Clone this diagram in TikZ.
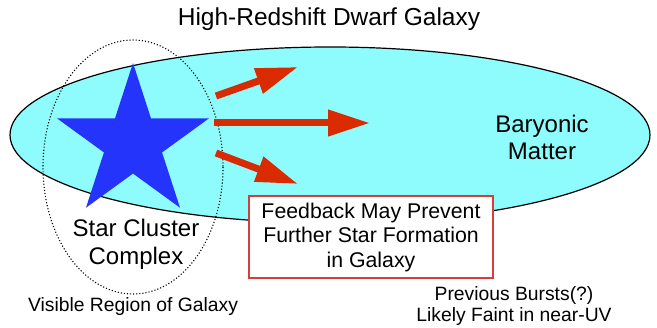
\documentclass[tikz,border=0pt]{standalone}
\usepackage{fontspec}
\setmainfont{Liberation Sans}
\usetikzlibrary{shapes.geometric,arrows.meta}
\definecolor{gasblue}{RGB}{142,252,252}
\definecolor{starblue}{RGB}{36,52,250}
\definecolor{flowred}{RGB}{218,42,0}
\definecolor{boxred}{RGB}{214,62,62}
\tikzset{
	flow/.style={draw=flowred, line width=7pt, -{Triangle[length=42pt,width=25pt]}},
	bigtext/.style={align=center, font=\fontsize{24.5}{28}\selectfont},
	smalltext/.style={align=center, font=\fontsize{19.3}{21}\selectfont}
}
\begin{document}
\begin{tikzpicture}[x=1pt,y=-1pt]
	\useasboundingbox (0,0) rectangle (657,328);
	\coordinate (G) at (330,135);
	\coordinate (V) at (133,167);
	\fill [gasblue] (G) ellipse [x radius=320, y radius=88];
	\draw [line width=1.2pt] (G) ellipse [x radius=320, y radius=88];
	\draw [dotted, line width=1.1pt] (V) ellipse [x radius=90, y radius=127];
	\node [star, star points=5, star point ratio=2.618, minimum size=160pt, inner sep=0pt, fill=starblue] (star) at (133,143) {};
	% feedback arrows
	\coordinate (T1) at (216,96);
	\coordinate (H1) at (298,67);
	\coordinate (T2) at (214,123);
	\coordinate (H2) at (370,123);
	\coordinate (T3) at (216,153);
	\coordinate (H3) at (298,184);
	\draw [flow] (T1) -- (H1);
	\draw [flow] (T2) -- (H2);
	\draw [flow] (T3) -- (H3);
	\node [bigtext] (title) at (329,19) {High-Redshift Dwarf Galaxy};
	\node [bigtext, font=\fontsize{24}{27}\selectfont] (matter) at (542,137) {Baryonic\\Matter};
	\node [bigtext, font=\fontsize{24}{28}\selectfont] (cluster) at (136,244) {Star Cluster\\Complex};
	\node [draw=boxred, line width=1.2pt, fill=white, minimum width=244pt, minimum height=82pt, align=center, font=\fontsize{21.3}{24.5}\selectfont] (feedback) at (371,237) {Feedback May Prevent\\Further Star Formation\\in Galaxy};
	\node [smalltext] (visible) at (133,307) {Visible Region of Galaxy};
	\node [smalltext] (bursts) at (514,306) {Previous Bursts(?)\\Likely Faint in near-UV};
\end{tikzpicture}
\end{document}
